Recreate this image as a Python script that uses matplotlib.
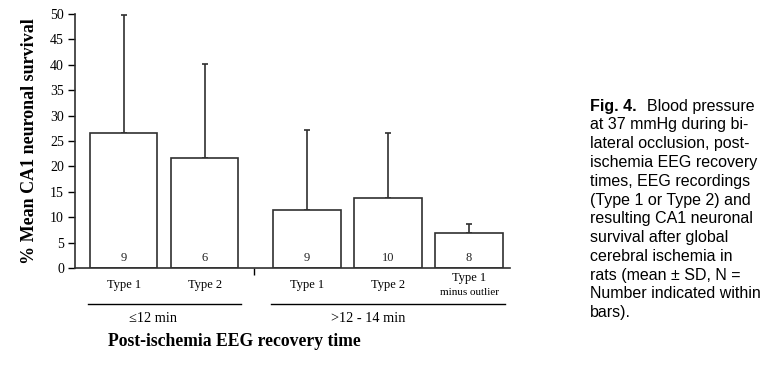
import matplotlib.pyplot as plt
from matplotlib.transforms import blended_transform_factory

# ===================
# DATA
# ===================
categories = ["Type 1", "Type 2", "Type 1", "Type 2", "Type 1\nminus outlier"]
groups = [0, 0, 1, 1, 1]
group_labels = ["\u226412 min", ">12 - 14 min"]
means = [26.6, 21.7, 11.4, 13.8, 6.8]
sds = [23.2, 18.4, 15.7, 12.8, 1.9]
n_counts = [9, 6, 9, 10, 8]

caption_lines = [
    "at 37 mmHg during bi-",
    "lateral occlusion, post-",
    "ischemia EEG recovery",
    "times, EEG recordings",
    "(Type 1 or Type 2) and",
    "resulting CA1 neuronal",
    "survival after global",
    "cerebral ischemia in",
    "rats (mean \u00b1 SD, N =",
    "Number indicated within",
    "bars).",
]

# ===================
# LAYOUT
# ===================
GROUP_GAP = 0.265
BAR_WIDTH = 0.83
EDGE = "#303030"
SERIF = "Liberation Serif"
SANS = "Liberation Sans"
GROUP_LABEL_SHIFT = [-0.14, -0.25]

plt.rcParams['font.family'] = SERIF

fig = plt.figure(figsize=(7.77, 3.74), dpi=100)
ax = fig.add_axes([75 / 777, 106 / 374, 435 / 777, 254 / 374])

xpos = [i + GROUP_GAP * g for i, g in enumerate(groups)]

ax.bar(xpos, means, width=BAR_WIDTH, color="white", edgecolor=EDGE, linewidth=1.2, zorder=2)
ax.errorbar(xpos, means, yerr=[[0] * len(sds), sds], fmt="none", ecolor=EDGE,
            elinewidth=1.2, capsize=2.5, capthick=1.2, zorder=1)

for x, n in zip(xpos, n_counts):
    ax.text(x, 2.0, str(n), ha="center", va="center", fontsize=9, color="#222222")

ax.set_xlim(-0.6, 4.77)
ax.set_ylim(0, 50)
ax.set_yticks(range(0, 51, 5))
ax.tick_params(axis="y", direction="out", length=5, width=1, labelsize=10, pad=3)

# separator tick between the two groups
sep = (xpos[1] + xpos[2]) / 2 - 0.02
ax.set_xticks([sep])
ax.set_xticklabels([""])
ax.tick_params(axis="x", direction="out", length=5, width=1)

for side in ["top", "right"]:
    ax.spines[side].set_visible(False)
for side in ["left", "bottom"]:
    ax.spines[side].set_color(EDGE)
    ax.spines[side].set_linewidth(1.2)

trans = blended_transform_factory(ax.transData, ax.transAxes)

for x, cat in zip(xpos, categories):
    if "\n" in cat:
        first, second = cat.split("\n")
        ax.text(x, -0.04, first, transform=trans, ha="center", va="center", fontsize=9)
        ax.text(x, -0.098, second, transform=trans, ha="center", va="center", fontsize=8)
    else:
        ax.text(x, -0.067, cat, transform=trans, ha="center", va="center", fontsize=9)

for g, label in enumerate(group_labels):
    gx = [x for x, gg in zip(xpos, groups) if gg == g]
    x0 = min(gx) - BAR_WIDTH / 2 - 0.03
    x1 = max(gx) + BAR_WIDTH / 2 + 0.03
    ax.plot([x0, x1], [-0.143, -0.143], transform=trans, color="black", lw=1, clip_on=False)
    ax.text((x0 + x1) / 2 + GROUP_LABEL_SHIFT[g], -0.197, label, transform=trans,
            ha="center", va="center", fontsize=10.3)

ax.text(0.367, -0.29, "Post-ischemia EEG recovery time", transform=ax.transAxes,
        ha="center", va="center", fontsize=12.7, fontweight="bold")
ax.set_ylabel("% Mean CA1 neuronal survival", fontsize=13, fontweight="bold", labelpad=9)

# caption on the right
cap_x = 590 / 777
top_y = 106
spacing = 18.8
fig.text(cap_x, 1 - top_y / 374, "Fig. 4.", family=SANS, fontweight="bold",
         fontsize=11.5, ha="left", va="center")
fig.text(647 / 777, 1 - top_y / 374, "Blood pressure", family=SANS,
         fontsize=11.5, ha="left", va="center")
for i, line in enumerate(caption_lines, start=1):
    fig.text(cap_x, 1 - (top_y + i * spacing) / 374, line, family=SANS,
             fontsize=11.5, ha="left", va="center")

fig.savefig("out.png", dpi=100)
